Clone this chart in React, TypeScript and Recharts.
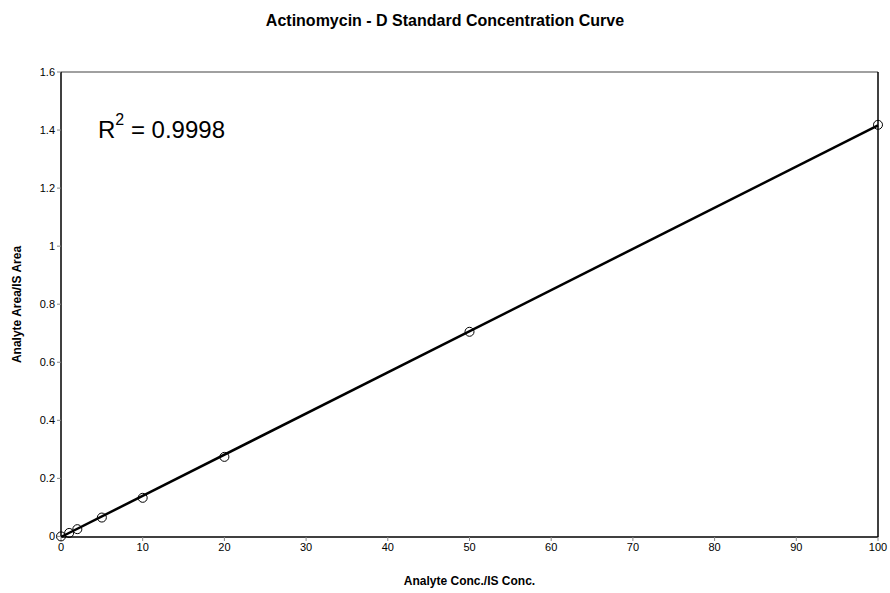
import React from "react";
import { ComposedChart, Scatter, Line, XAxis, YAxis, ReferenceLine, Label } from "recharts";

const concentrations = [0, 1, 2, 5, 10, 20, 50, 100];
const areaRatios = [0, 0.012, 0.025, 0.065, 0.133, 0.274, 0.705, 1.418];
const trendX = [0, 100];
const trendY = [-0.002, 1.416];
const xTicks = [0, 10, 20, 30, 40, 50, 60, 70, 80, 90, 100];
const yTicks = [0, 0.2, 0.4, 0.6, 0.8, 1, 1.2, 1.4, 1.6];

const points = concentrations.map((x, i) => ({ x, y: areaRatios[i] }));
const trend = trendX.map((x, i) => ({ x, y: trendY[i] }));

const font = "'Liberation Sans', Arial, sans-serif";

export default function App() {
  return (
    <div style={{ position: "relative", width: 890, height: 593, background: "#fff", fontFamily: font }}>
      <style>{"body{margin:0}"}</style>
      <div style={{ position: "absolute", top: 12, left: 0, width: 890, textAlign: "center", fontWeight: "bold", fontSize: 16, color: "#000" }}>
        Actinomycin - D Standard Concentration Curve
      </div>
      <div style={{ position: "absolute", top: 116, left: 98, fontSize: 24, color: "#000" }}>
        R<sup style={{ fontSize: 16, verticalAlign: "top", position: "relative", top: -5 }}>2</sup> = 0.9998
      </div>
      <ComposedChart width={890} height={593} margin={{ top: 72, right: 12, bottom: 0, left: 0 }}>
        <XAxis
          type="number"
          dataKey="x"
          domain={[0, 100]}
          ticks={xTicks}
          interval={0}
          height={56}
          axisLine={{ stroke: "#000", strokeWidth: 1.5 }}
          tickLine={{ stroke: "#888" }}
          tickSize={4}
          tick={{ fill: "#000", fontSize: 11, fontFamily: font }}
        >
          <Label value="Analyte Conc./IS Conc." position="insideBottom" offset={8} style={{ fontWeight: "bold", fontSize: 12, fill: "#000", fontFamily: font }} />
        </XAxis>
        <YAxis
          type="number"
          dataKey="y"
          domain={[0, 1.6]}
          ticks={yTicks}
          interval={0}
          width={61}
          axisLine={{ stroke: "#000", strokeWidth: 1.5 }}
          tickLine={{ stroke: "#888" }}
          tickSize={4}
          tick={{ fill: "#000", fontSize: 11, fontFamily: font }}
          tickFormatter={(v: number) => String(Math.round(v * 10) / 10)}
        >
          <Label value="Analyte Area/IS Area" angle={-90} position="insideLeft" offset={17} style={{ textAnchor: "middle", fontWeight: "bold", fontSize: 12, fill: "#000", fontFamily: font }} />
        </YAxis>
        <ReferenceLine y={1.6} stroke="#808080" strokeWidth={1.5} />
        <ReferenceLine x={100} stroke="#000" strokeWidth={1.5} />
        <Line data={trend} dataKey="y" type="linear" stroke="#000" strokeWidth={2.5} dot={false} isAnimationActive={false} />
        <Scatter data={points} dataKey="y" fill="none" stroke="#000" isAnimationActive={false}
          shape={(p: any) => <circle cx={p.cx} cy={p.cy} r={4.5} fill="none" stroke="#000" strokeWidth={1} />} />
      </ComposedChart>
    </div>
  );
}
